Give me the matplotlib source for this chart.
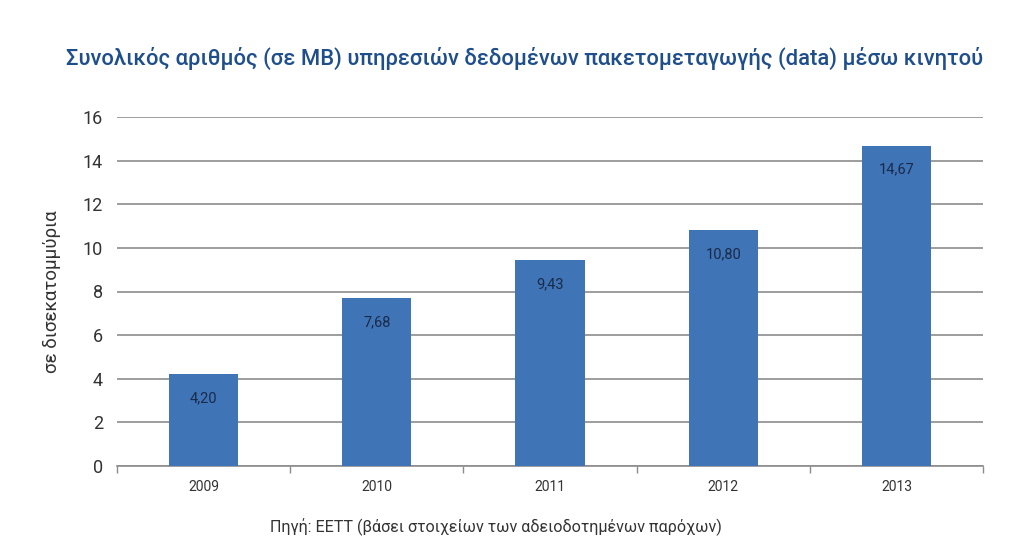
import matplotlib
matplotlib.use("Agg")
import matplotlib.pyplot as plt
import numpy as np

years = ["2009", "2010", "2011", "2012", "2013"]
values = [4.20, 7.68, 9.43, 10.80, 14.67]
labels = ["4,20", "7,68", "9,43", "10,80", "14,67"]
yticks = [0, 2, 4, 6, 8, 10, 12, 14, 16]

title = "Συνολικός αριθμός (σε MB) υπηρεσιών δεδομένων πακετομεταγωγής (data) μέσω κινητού"
ylabel = "σε δισεκατομμύρια"
source = "Πηγή: ΕΕΤΤ (βάσει στοιχείων των αδειοδοτημένων παρόχων)"

fam = ["Roboto", "DejaVu Sans"]
plt.rcParams['font.family'] = fam

fig = plt.figure(figsize=(10.24, 5.51), dpi=100)
ax = fig.add_axes([117/1024, 1-466/551, (983-117)/1024, (466-117)/551])

x = np.arange(len(years))
bar_color = "#3f74b6"
ax.bar(x, values, width=0.4, color=bar_color, zorder=3)
ax.set_xlim(-0.5, len(years)-0.5)
ax.set_ylim(0, 16)
ax.set_yticks(yticks)
ax.set_yticklabels([str(t) for t in yticks], fontsize=13, color="#333333")
ax.yaxis.grid(True, color="#8c8c8c", linewidth=1.2, zorder=0)
ax.tick_params(axis='y', length=0, pad=10)
ax.set_xticks(x)
ax.set_xticklabels(years, fontsize=10, color="#333333")
ax.tick_params(axis='x', length=0, pad=10)
ax.set_xticks(np.arange(-0.5, len(years)), minor=True)
ax.tick_params(axis='x', which='minor', length=5, color="#8c8c8c", width=1)
for s in ["top", "right", "left"]:
    ax.spines[s].set_visible(False)
ax.spines["bottom"].set_color("#8c8c8c")
ax.spines["bottom"].set_linewidth(1.2)

for xi, v, lab in zip(x, values, labels):
    ax.annotate(lab, (xi, v), xytext=(0, -17), textcoords="offset points",
                ha="center", va="center", fontsize=10.5, color="#1a2a4a", zorder=4)

ax.set_ylabel(ylabel, fontsize=13.5, color="#333333", labelpad=16)

t = fig.text(525/1024, 1-58/551, title, ha="center", va="center",
             fontsize=17, color="#1f4e8c", fontweight="medium")
fig.canvas.draw()
bb = t.get_window_extent()
t.set_fontsize(17 * 920 / bb.width)

s = fig.text(496/1024, 1-527/551, source, ha="center", va="center",
             fontsize=11, color="#333333")
fig.canvas.draw()
bb = s.get_window_extent()
s.set_fontsize(11 * 452 / bb.width)

fig.savefig("out.png", dpi=100)
